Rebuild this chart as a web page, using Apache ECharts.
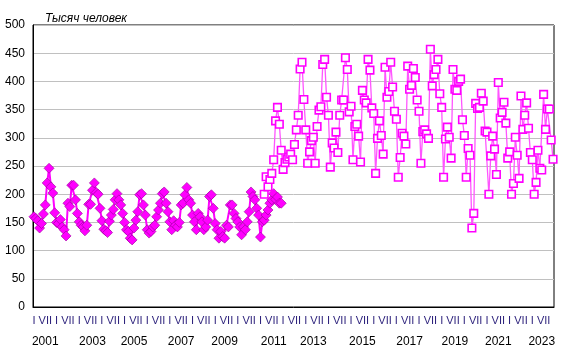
<!DOCTYPE html>
<html><head><meta charset="utf-8">
<script src="https://cdn.jsdelivr.net/npm/echarts@6/dist/echarts.min.js"></script>
<style>html,body{margin:0;padding:0;background:#fff}#c{width:569px;height:362px}</style>
</head><body><div id="c"></div>
<script>
// ---- data ----
var startYear = 2001, endYear = 2023;
var monthLabels = ['I','','','','','','VII','','','','',''];
var yearLabels = ['2001','2003','2005','2007','2009','2011','2013','2015','2017','2019','2021','2023'];
var yearLabelMonth = [6,7,5,6,5,7,4,6,7,7,6,5];
var yTicks = [0,50,100,150,200,250,300,350,400,450,500];
// series 1 (diamonds): Jan 2001 - Dec 2011
var oldSeries = [
 160,157,153,140,148,165,181,220,246,213,202,167,
 150,148,155,142,137,126,184,178,216,216,190,166,
 151,145,142,135,145,182,182,207,220,203,200,175,
 153,138,135,132,152,163,173,190,201,190,181,166,
 150,137,134,122,119,140,154,169,199,201,181,163,
 137,131,134,142,145,160,172,184,201,204,184,169,
 151,137,153,145,142,150,181,184,199,212,190,184,
 163,151,137,166,160,151,137,142,154,196,199,175,
 148,137,122,134,125,122,145,142,181,181,166,157,
 151,142,128,142,137,151,169,204,196,190,175,163,
 124,151,154,163,172,184,190,201,191,195,184,184
];
// series 2 (squares): Mar 2011 - Dec 2023
var newStart = 122;
var newSeries = [
 200,231,213,226,237,261,330,354,324,278,
 244,256,262,266,271,261,288,314,340,422,
 434,368,314,255,275,295,301,255,320,349,
 355,430,439,372,340,248,291,282,310,274,
 340,367,367,442,421,346,356,261,320,324,
 303,257,384,367,362,439,420,353,343,237,
 299,330,304,271,425,372,382,434,390,347,
 333,230,265,308,303,289,427,386,393,423,
 407,367,347,255,311,314,307,299,457,392,
 412,421,439,378,354,230,298,319,301,264,
 421,386,384,400,404,332,304,230,281,269,
 140,166,361,352,354,379,365,312,310,200,
 268,303,280,235,398,335,345,363,326,264,
 275,200,219,301,269,228,374,315,340,362,
 317,274,261,200,221,278,246,243,377,315,
 351,351,296,262
];
// ---- build ----
var categories = [];
for (var y = startYear; y <= endYear; y++) for (var m = 0; m < 12; m++) categories.push(y + '-' + (m + 1));
var n = categories.length;
var s1 = [], s2 = [];
for (var i = 0; i < n; i++) {
  s1.push(i < oldSeries.length ? oldSeries[i] : null);
  var k = i - newStart;
  s2.push(k >= 0 && k < newSeries.length ? newSeries[k] : null);
}
var yearIdx = {};
yearLabels.forEach(function (lab, j) { yearIdx[(parseInt(lab) - startYear) * 12 + yearLabelMonth[j]] = lab; });

var chart = echarts.init(document.getElementById('c'), null, {renderer: 'canvas'});
chart.setOption({
  animation: false,
  backgroundColor: '#ffffff',
  title: {text: 'Тысяч человек', left: 40, top: 8,
    textStyle: {fontFamily: 'Liberation Sans, Arial, sans-serif', fontSize: 12, fontStyle: 'italic', fontWeight: 'normal', color: '#000'}},
  grid: {left: 33, right: 15, top: 25, bottom: 55, show: true, borderColor: '#000', borderWidth: 1, backgroundColor: 'transparent'},
  xAxis: [{
    type: 'category', data: categories, boundaryGap: true, position: 'bottom',
    axisLine: {show: true, lineStyle: {color: '#000', width: 1}},
    axisTick: {show: false},
    axisLabel: {interval: function (idx) { return idx % 6 === 0; }, margin: 8,
      formatter: function (v, idx) { return monthLabels[idx % 12]; },
      fontFamily: 'Liberation Sans Narrow, Arial Narrow, Liberation Sans, sans-serif', fontSize: 11, color: '#2a1f7a'},
    splitLine: {show: false}
  }, {
    type: 'category', data: categories, boundaryGap: true, position: 'bottom', gridIndex: 0,
    axisLine: {show: false}, axisTick: {show: false},
    axisLabel: {interval: function (idx) { return yearIdx[idx] !== undefined; }, margin: 29,
      formatter: function (v, idx) { return yearIdx[idx] || ''; },
      fontFamily: 'Liberation Sans, Arial, sans-serif', fontSize: 12, color: '#000'},
    splitLine: {show: false}
  }],
  yAxis: {
    type: 'value', min: yTicks[0], max: yTicks[yTicks.length - 1], interval: 50,
    axisLine: {show: true, lineStyle: {color: '#000', width: 1}},
    axisTick: {show: false},
    axisLabel: {margin: 8, fontFamily: 'Liberation Sans, Arial, sans-serif', fontSize: 12, color: '#000'},
    splitLine: {show: true, lineStyle: {color: '#c0c0c0', width: 1}}
  },
  series: [{
    type: 'line', data: s1, xAxisIndex: 0, symbol: 'diamond', symbolSize: 10,
    showAllSymbol: true, connectNulls: false,
    lineStyle: {color: '#ff00ff', width: 2},
    itemStyle: {color: '#ff00ff', borderColor: '#990099', borderWidth: 0.6}
  }, {
    type: 'line', data: s2, xAxisIndex: 0, symbol: 'rect', symbolSize: 7.5,
    showAllSymbol: true, connectNulls: false,
    lineStyle: {color: '#ff55ff', width: 1.3},
    itemStyle: {color: '#ffffff', borderColor: '#ff00ff', borderWidth: 1.6}
  }]
});
</script></body></html>
